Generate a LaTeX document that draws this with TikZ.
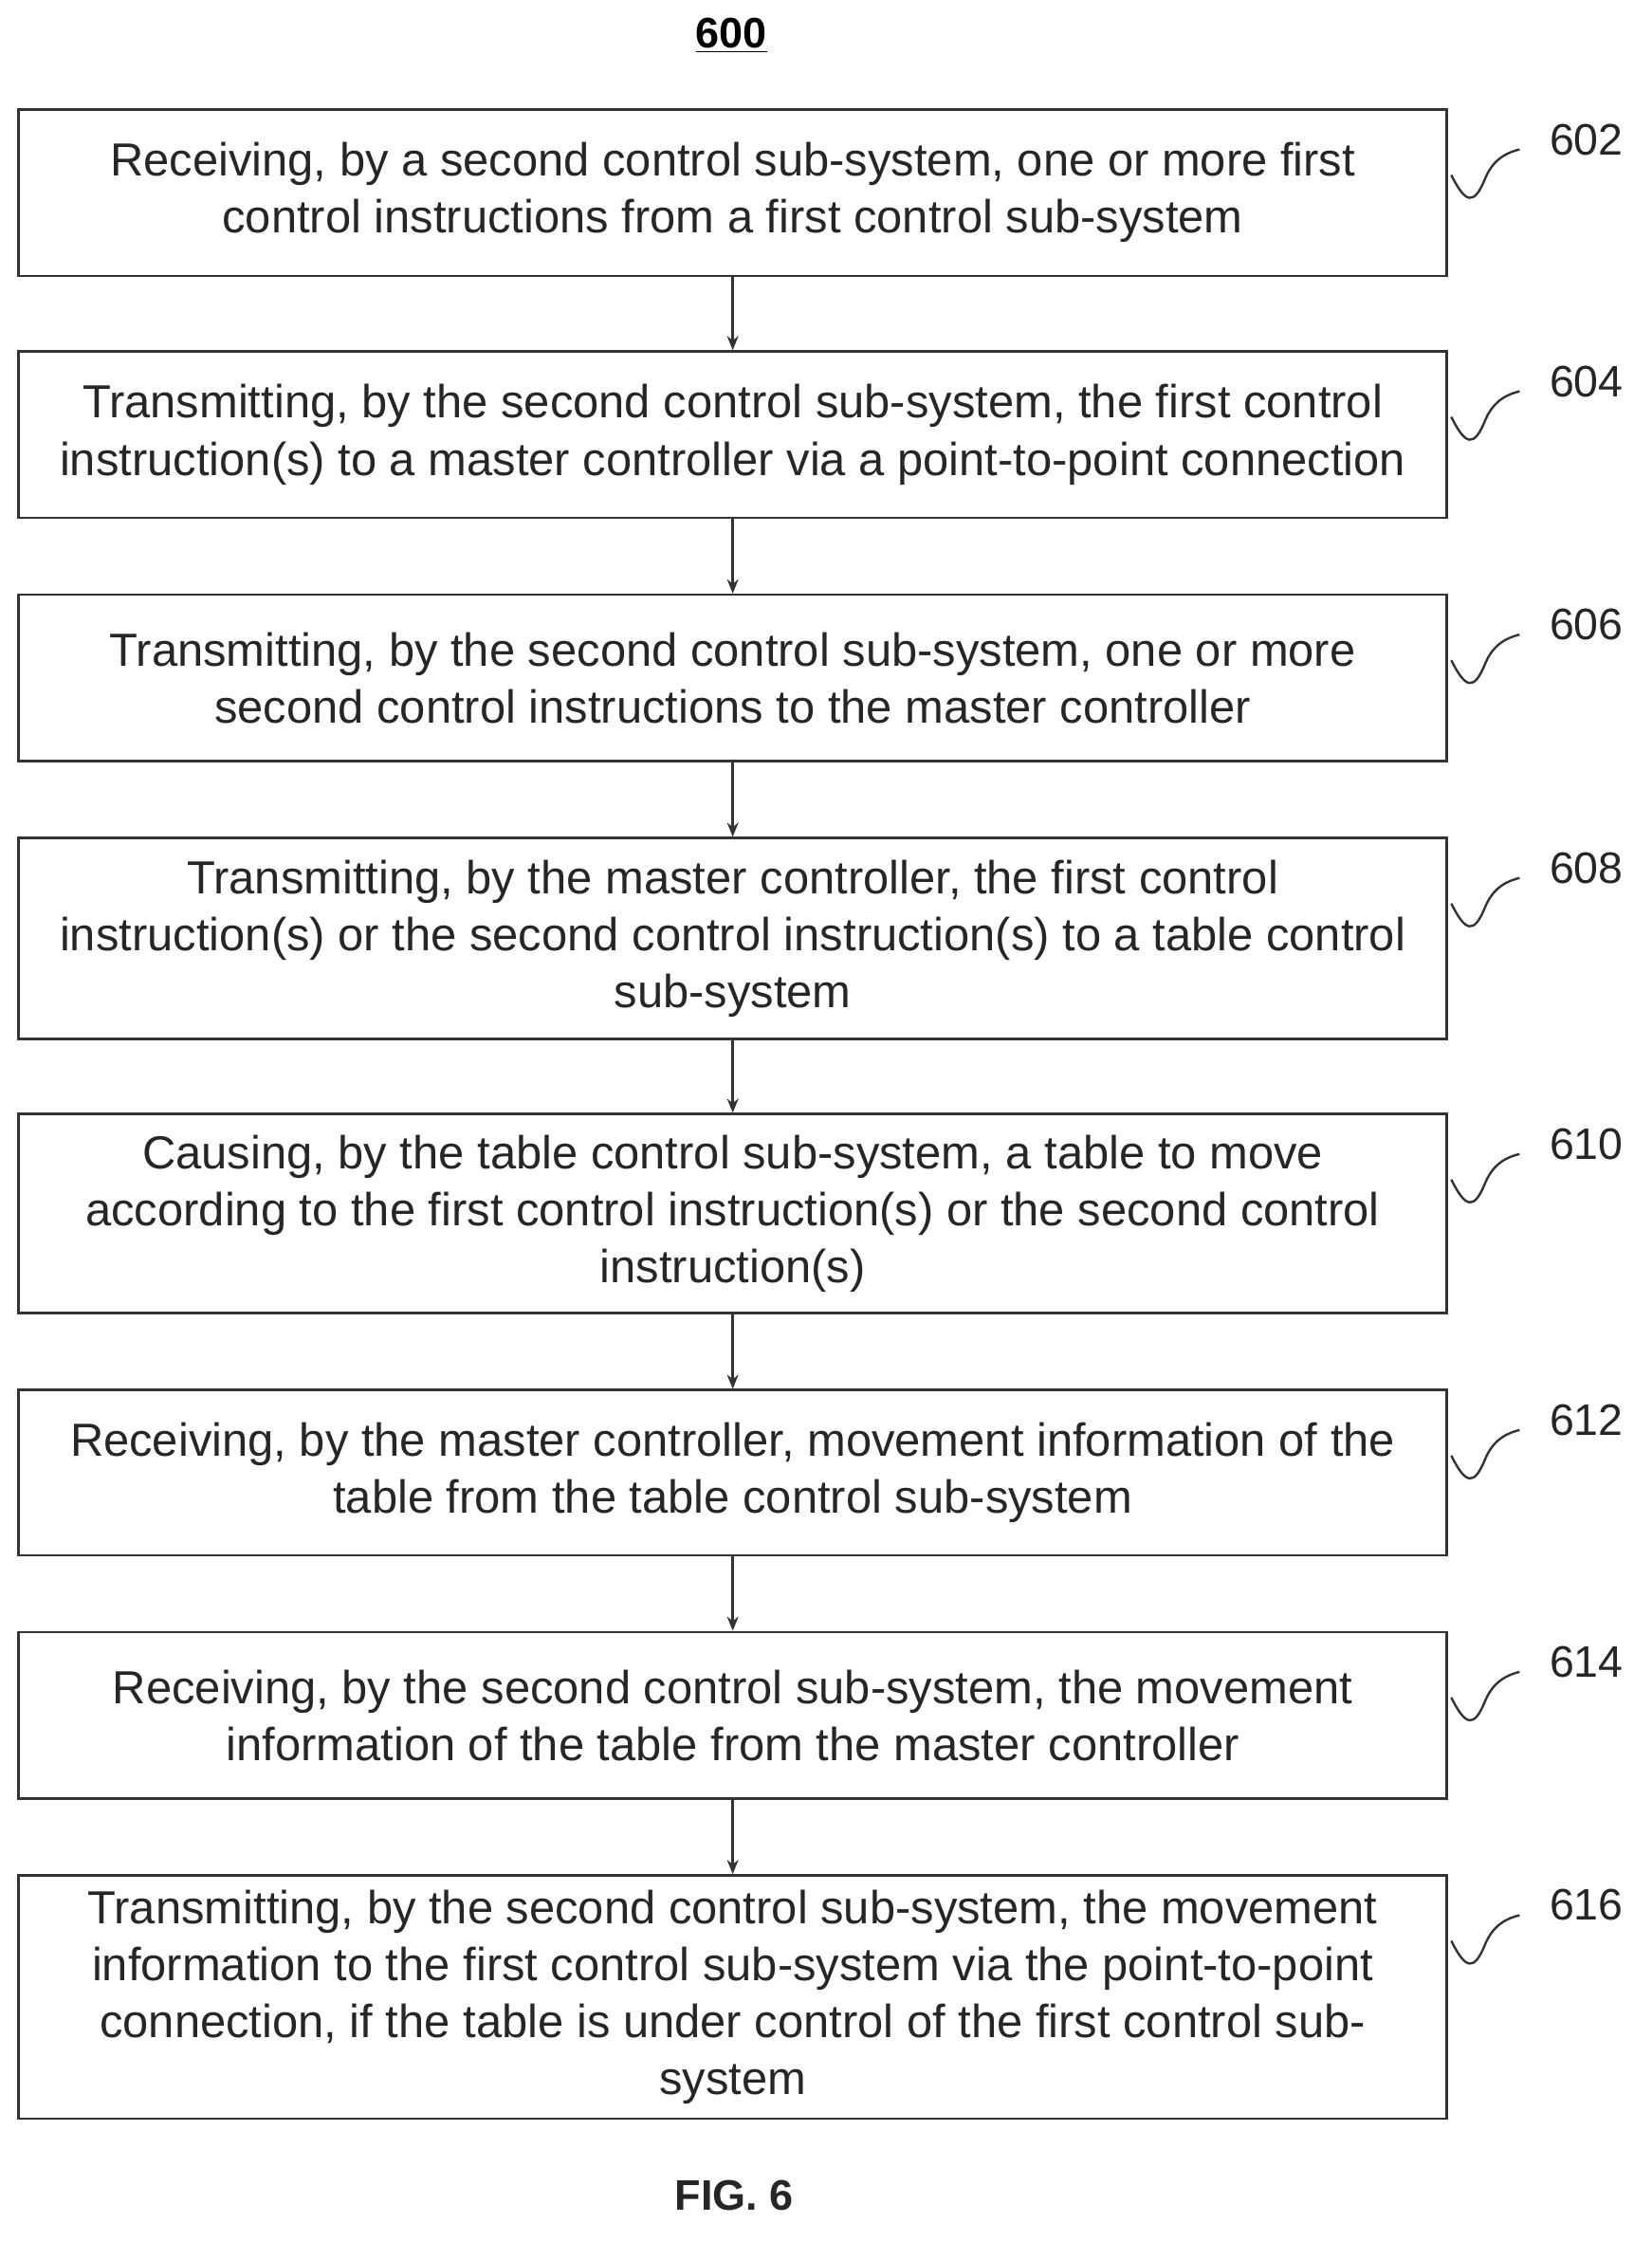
\documentclass[tikz,border=0pt]{standalone}
\usepackage{fontspec}
\setmainfont{Liberation Sans}
\usetikzlibrary{arrows.meta}
\begin{document}
\begin{tikzpicture}[x=0.5pt,y=-0.5pt,
 box/.style={draw=black!80,line width=0.9pt,minimum width=502pt,align=center,font=\fontsize{16.3}{20}\selectfont,text=black!85,inner sep=0pt},
 arr/.style={draw=black!80,line width=0.8pt,-{Stealth[length=5pt,width=4pt]}},
 sq/.style={draw=black!80,line width=0.8pt},
 lab/.style={font=\fontsize{15.5}{16}\selectfont,text=black!85}]
\useasboundingbox (0,0) rectangle (1161,1575);
\node[font=\bfseries\fontsize{15}{16}\selectfont] (t) at (514,25) {\underline{600}};
\foreach \n/\a/\b/\t/\l in {
 1/75/192/{Receiving, by a second control sub-system, one or more first\\control instructions from a first control sub-system}/602,
 2/245/362/{Transmitting, by the second control sub-system, the first control\\instruction(s) to a master controller via a point-to-point connection}/604,
 3/416/533/{Transmitting, by the second control sub-system, one or more\\second control instructions to the master controller}/606,
 4/587/728/{Transmitting, by the master controller, the first control\\instruction(s) or the second control instruction(s) to a table control\\sub-system}/608,
 5/781/921/{Causing, by the table control sub-system, a table to move\\according to the first control instruction(s) or the second control\\instruction(s)}/610,
 6/975/1091/{Receiving, by the master controller, movement information of the\\table from the table control sub-system}/612,
 7/1145/1262/{Receiving, by the second control sub-system, the movement\\information of the table from the master controller}/614,
 8/1316/1487/{Transmitting, by the second control sub-system, the movement\\information to the first control sub-system via the point-to-point\\connection, if the table is under control of the first control sub-\\system}/616}{
 \node[box,minimum height={(\b-\a)*0.5pt}] (b\n) at (515,{(\a+\b+4)/2}) {\t};
 \node[lab] (l\n) at (1115,{\a+23}) {\l};
 \draw[sq] ({1020},{\a+48}) .. controls ({1030},{\a+68}) and ({1036},{\a+70}) .. ({1044},{\a+50}) .. controls ({1050},{\a+36}) and ({1060},{\a+32}) .. ({1068},{\a+30});
}
\foreach \i [evaluate=\i as \j using int(\i+1)] in {1,...,7}{
 \draw[arr] (b\i.south) -- (b\j.north);
}
\node[font=\bfseries\fontsize{15}{16}\selectfont,text=black!85] (f) at (516,1543) {FIG. 6};
\end{tikzpicture}
\end{document}
